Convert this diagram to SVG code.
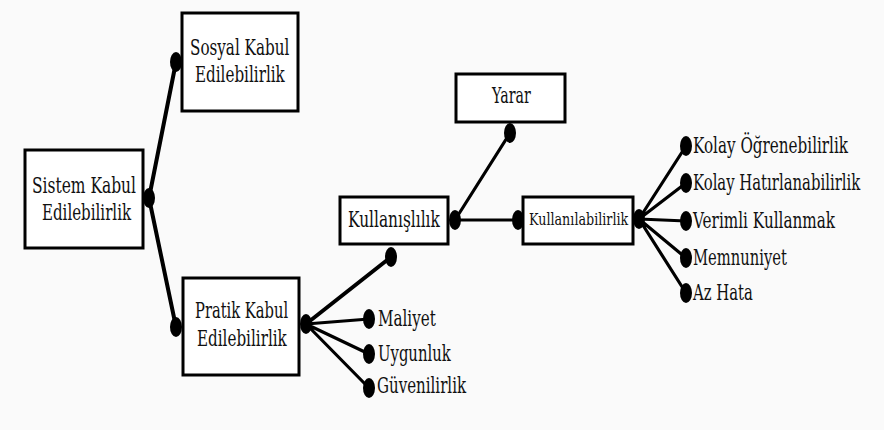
<svg xmlns="http://www.w3.org/2000/svg" width="884" height="430" viewBox="0 0 884 430">
<style>
.box{fill:#fff;stroke:#000;stroke-width:3}
.ln{stroke:#000;stroke-width:4;stroke-linecap:round;fill:none}
.th{stroke-width:3.2}
.dot{fill:#000}
.t{font-family:'DejaVu Serif',serif;font-size:22px;fill:#111}
</style>
<rect width="884" height="430" fill="#fafafa"/>
<g class="t">
<g id="sistem"><rect class="box" x="25" y="150" width="118" height="98"/>
<text transform="translate(32,193) scale(0.68,1)" textLength="153" lengthAdjust="spacingAndGlyphs">Sistem  Kabul</text>
<text transform="translate(42,220) scale(0.68,1)" textLength="131" lengthAdjust="spacingAndGlyphs">Edilebilirlik</text></g>
<g id="sosyal"><rect class="box" x="182" y="13" width="116" height="98"/>
<text transform="translate(190,55) scale(0.68,1)" textLength="146" lengthAdjust="spacingAndGlyphs">Sosyal Kabul</text>
<text transform="translate(195,82) scale(0.68,1)" textLength="132" lengthAdjust="spacingAndGlyphs">Edilebilirlik</text></g>
<g id="pratik"><rect class="box" x="183" y="278" width="116" height="97"/>
<text transform="translate(195,318) scale(0.68,1)" textLength="137" lengthAdjust="spacingAndGlyphs">Pratik Kabul</text>
<text transform="translate(197,346) scale(0.68,1)" textLength="132" lengthAdjust="spacingAndGlyphs">Edilebilirlik</text></g>
<g id="kullanislilik"><rect class="box" x="340" y="197" width="108" height="47"/>
<text transform="translate(348,227) scale(0.68,1)" textLength="135" lengthAdjust="spacingAndGlyphs">Kullanışlılık</text></g>
<g id="yarar"><rect class="box" x="456" y="74" width="109" height="48"/>
<text transform="translate(492,103) scale(0.68,1)" textLength="57" lengthAdjust="spacingAndGlyphs">Yarar</text></g>
<g id="kullanilabilirlik"><rect class="box" x="523" y="197" width="110" height="47"/>
<text font-size="17" transform="translate(529,225) scale(0.68,1)" textLength="146" lengthAdjust="spacingAndGlyphs">Kullanılabilirlik</text></g>
</g>
<g id="connectors">
<path class="ln" d="M149 198 L176 62 M149 198 L176 327"/>
<path class="ln" d="M306 324 L391 257"/>
<path class="ln th" d="M306 324 L369 319 M306 324 L369 354 M306 324 L369 388"/>
<path class="ln th" d="M455 220 L510 133 M455 220 L518 220"/>
<path class="ln th" d="M639 219 L686 146 M639 219 L686 183 M639 219 L686 221 M639 219 L686 258 M639 219 L686 293"/>
<g class="dot">
<ellipse cx="149" cy="198" rx="6" ry="10"/><ellipse cx="176" cy="62" rx="6" ry="10"/>
<ellipse cx="176" cy="327" rx="6" ry="10"/><ellipse cx="306" cy="324" rx="6" ry="10"/>
<ellipse cx="391" cy="257" rx="6" ry="10"/><ellipse cx="455" cy="220" rx="6" ry="10"/>
<ellipse cx="510" cy="133" rx="6" ry="10"/><ellipse cx="518" cy="220" rx="6" ry="10"/>
<ellipse cx="639" cy="219" rx="6" ry="10"/>
<ellipse cx="369" cy="319" rx="6" ry="10"/><ellipse cx="369" cy="354" rx="6" ry="10"/><ellipse cx="369" cy="388" rx="6" ry="10"/>
<ellipse cx="686" cy="146" rx="6" ry="10"/><ellipse cx="686" cy="183" rx="6" ry="10"/><ellipse cx="686" cy="221" rx="6" ry="10"/><ellipse cx="686" cy="258" rx="6" ry="10"/><ellipse cx="686" cy="293" rx="6" ry="10"/>
</g></g>
<g class="t">
<g id="maliyet"><text transform="translate(378,326) scale(0.68,1)" textLength="85" lengthAdjust="spacingAndGlyphs">Maliyet</text></g>
<g id="uygunluk"><text transform="translate(378,361) scale(0.68,1)" textLength="107" lengthAdjust="spacingAndGlyphs">Uygunluk</text></g>
<g id="guvenilirlik"><text transform="translate(377,393) scale(0.68,1)" textLength="131" lengthAdjust="spacingAndGlyphs">Güvenilirlik</text></g>
<g id="kolay-ogren"><text transform="translate(693,153) scale(0.68,1)" textLength="228" lengthAdjust="spacingAndGlyphs">Kolay Öğrenebilirlik</text></g>
<g id="kolay-hatir"><text transform="translate(693,190) scale(0.68,1)" textLength="246" lengthAdjust="spacingAndGlyphs">Kolay Hatırlanabilirlik</text></g>
<g id="verimli"><text transform="translate(693,228) scale(0.68,1)" textLength="209" lengthAdjust="spacingAndGlyphs">Verimli Kullanmak</text></g>
<g id="memnuniyet"><text transform="translate(693,265) scale(0.68,1)" textLength="138" lengthAdjust="spacingAndGlyphs">Memnuniyet</text></g>
<g id="azhata"><text transform="translate(693,300) scale(0.68,1)" textLength="88" lengthAdjust="spacingAndGlyphs">Az Hata</text></g>
</g>
</svg>
